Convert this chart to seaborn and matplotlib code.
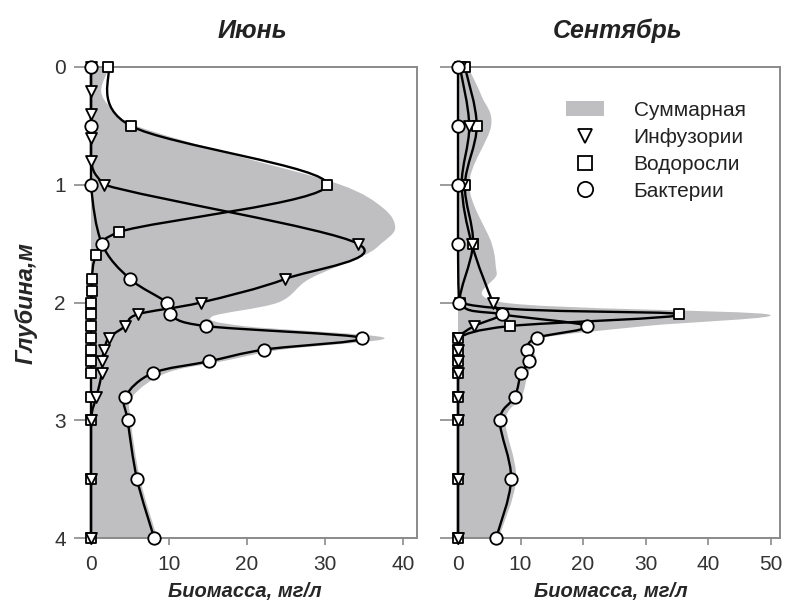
import numpy as np
import matplotlib
matplotlib.use("Agg")
import matplotlib.pyplot as plt
import seaborn as sns
from matplotlib.path import Path
from matplotlib.patches import PathPatch, Patch
from matplotlib.lines import Line2D

# ---------------- data: biomass (mg/l) by depth (m) ----------------
# June
jun_alg_depth = [0, 0.5, 1.0, 1.4, 1.6, 1.8, 1.9, 2.0, 2.1, 2.2, 2.3, 2.4, 2.5, 2.6, 2.8, 3.0, 3.5, 4.0]
jun_alg = [2.2, 5.1, 30.3, 3.6, 0.7, 0.1, 0.1, 0, 0, 0, 0, 0, 0, 0, 0, 0, 0, 0]

jun_cil_depth = [0, 0.2, 0.4, 0.6, 0.8, 1.0, 1.5, 1.8, 2.0, 2.1, 2.2, 2.3, 2.4, 2.5, 2.6, 2.8, 3.0, 3.5, 4.0]
jun_cil = [0, 0, 0, 0, 0, 1.7, 34.2, 24.9, 14.1, 6.0, 4.4, 2.3, 1.7, 1.4, 1.4, 0.7, 0, 0, 0]

jun_bac_depth = [0, 0.5, 1.0, 1.5, 1.8, 2.0, 2.1, 2.2, 2.3, 2.4, 2.5, 2.6, 2.8, 3.0, 3.5, 4.0]
jun_bac = [0, 0, 0, 1.4, 5.0, 9.7, 10.1, 14.7, 34.7, 22.2, 15.1, 7.9, 4.4, 4.7, 5.9, 8.1]

jun_tot_depth = [0, 0.2, 0.35, 0.5, 0.75, 1.0, 1.2, 1.37, 1.5, 1.6, 1.8, 2.0, 2.12, 2.2, 2.3, 2.4, 2.5, 2.6, 2.8, 3.0, 3.5, 4.0]
jun_tot = [2.4, 1.3, 2.6, 5.8, 18.5, 32.0, 37.5, 39.0, 37.2, 35.0, 28.0, 24.0, 15.5, 19.5, 37.6, 24.5, 16.8, 9.6, 5.3, 5.1, 6.3, 8.5]

# September
sep_alg_depth = [0, 0.5, 1.0, 1.5, 2.0, 2.1, 2.2, 2.3, 2.4, 2.5, 2.6, 2.8, 3.0, 3.5, 4.0]
sep_alg = [1.1, 3.0, 1.1, 2.4, 0.3, 35.4, 8.3, 0, 0, 0, 0, 0, 0, 0, 0]

sep_cil_depth = [0, 0.5, 1.0, 1.5, 2.0, 2.1, 2.2, 2.3, 2.4, 2.5, 2.6, 2.8, 3.0, 3.5, 4.0]
sep_cil = [0.3, 1.8, 0.6, 2.2, 5.6, 7.0, 2.6, 0, 0, 0, 0, 0, 0, 0, 0]

sep_bac_depth = [0, 0.5, 1.0, 1.5, 2.0, 2.1, 2.2, 2.3, 2.4, 2.5, 2.6, 2.8, 3.0, 3.5, 4.0]
sep_bac = [0, 0, 0, 0, 0.2, 7.0, 20.6, 12.6, 11.0, 11.4, 10.1, 9.1, 6.7, 8.5, 6.1]

sep_tot_depth = [0, 0.25, 0.5, 1.0, 1.5, 1.75, 2.0, 2.1, 2.2, 2.3, 2.4, 2.5, 2.6, 2.8, 3.0, 3.5, 4.0]
sep_tot = [1.6, 3.8, 5.3, 1.8, 5.4, 6.2, 7.2, 49.5, 30.0, 13.5, 12.2, 12.5, 11.2, 10.2, 7.6, 9.3, 6.5]

titles = ["Июнь", "Сентябрь"]
legend_labels = ["Суммарная", "Инфузории", "Водоросли", "Бактерии"]
depth_ticks = [0, 1, 2, 3, 4]
jun_xticks = [0, 10, 20, 30, 40]
sep_xticks = [0, 10, 20, 30, 40, 50]

GREY = "#bfbfc1"
SPINE = "#8a8a8a"

sns.set_theme(style="white")
plt.rcParams["font.family"] = ["Liberation Sans", "DejaVu Sans"]
plt.rcParams["text.color"] = "#222222"

fig = plt.figure(figsize=(7.86, 6.09), dpi=100)
W, H = 786, 609
ax1 = fig.add_axes([88 / W, 71 / H, 329 / W, 471 / H])
ax2 = fig.add_axes([455 / W, 71 / H, 325 / W, 471 / H])
limits = {ax1: (-0.385, 41.8), ax2: (-0.48, 51.52)}
for ax, lim in limits.items():
    ax.set_xlim(*lim)
    ax.set_ylim(4, 0)


def smooth_vertices(ax, xs, ys):
    """Catmull-Rom curve through the points as cubic Bezier segments (display space).
    Control points are kept at or right of the zero-biomass line."""
    pts = ax.transData.transform(np.column_stack([xs, ys]))
    x_zero = ax.transData.transform([(0, 0)])[0][0]
    n = len(pts)
    verts = [pts[0]]
    for i in range(n - 1):
        p0 = pts[i - 1] if i > 0 else pts[i]
        p1, p2 = pts[i], pts[i + 1]
        p3 = pts[i + 2] if i + 2 < n else pts[i + 1]
        c1 = p1 + (p2 - p0) / 6.0
        c2 = p2 - (p3 - p1) / 6.0
        c1[0] = max(c1[0], x_zero)
        c2[0] = max(c2[0], x_zero)
        verts += [c1, c2, p2]
    codes = [Path.MOVETO] + [Path.CURVE4] * (3 * (n - 1))
    return np.array(verts), codes


def curve_patch(ax, xs, ys):
    verts, codes = smooth_vertices(ax, xs, ys)
    path = Path(ax.transData.inverted().transform(verts), codes)
    return PathPatch(path, fill=False, edgecolor="black", lw=1.7,
                     capstyle="round", joinstyle="round", zorder=3, clip_on=False)


def area_patch(ax, xs, ys):
    verts, codes = smooth_vertices(ax, xs, ys)
    base_top = ax.transData.transform([(0, ys[0])])[0]
    base_bot = ax.transData.transform([(0, ys[-1])])[0]
    allv = np.vstack([[base_top], verts, [base_bot], [base_top]])
    allc = [Path.MOVETO, Path.LINETO] + codes[1:] + [Path.LINETO, Path.CLOSEPOLY]
    path = Path(ax.transData.inverted().transform(allv), allc)
    return PathPatch(path, facecolor=GREY, edgecolor="none", zorder=1)


panels = [
    (ax1, jun_tot_depth, jun_tot,
     [(jun_alg_depth, jun_alg, "s", 62), (jun_cil_depth, jun_cil, "v", 62), (jun_bac_depth, jun_bac, "o", 80)]),
    (ax2, sep_tot_depth, sep_tot,
     [(sep_alg_depth, sep_alg, "s", 62), (sep_cil_depth, sep_cil, "v", 62), (sep_bac_depth, sep_bac, "o", 80)]),
]

for ax, tot_d, tot_v, series in panels:
    ax.add_patch(area_patch(ax, tot_v, tot_d))
    for d, v, m, s in series:
        ax.add_patch(curve_patch(ax, v, d))
    for k, (d, v, m, s) in enumerate(series):
        sns.scatterplot(x=v, y=d, marker=m, s=s, color="white", edgecolor="black",
                        linewidth=1.3, ax=ax, zorder=4 + k)
    for c in ax.collections:
        c.set_clip_on(False)

label_font = dict(fontsize=14.5, fontweight="bold", fontstyle="italic")
for ax, title, xt, lx in [(ax1, titles[0], jun_xticks, 0.477), (ax2, titles[1], sep_xticks, 0.48)]:
    ax.set_xlim(*limits[ax])
    ax.set_ylim(4, 0)
    ax.set_xticks(xt)
    ax.set_yticks(depth_ticks)
    ax.set_title(title, fontsize=18, fontweight="bold", fontstyle="italic", pad=21)
    ax.set_xlabel("Биомасса, мг/л", **label_font)
    ax.xaxis.set_label_coords(lx, -0.093, transform=ax.transAxes)
    ax.xaxis.label.set_verticalalignment("top")
    ax.set_ylabel("")
    ax.spines["left"].set_visible(False)
    for side in ["top", "right", "bottom"]:
        ax.spines[side].set_color(SPINE)
        ax.spines[side].set_linewidth(1.4)
        ax.spines[side].set_zorder(2)
    ax.tick_params(axis="y", direction="out", length=10, width=1.2, color=SPINE,
                   labelsize=15, pad=6, labelcolor="#333333", left=True)
    ax.tick_params(axis="x", direction="out", length=5, width=1.2, color=SPINE,
                   labelsize=15, pad=7, labelcolor="#333333", bottom=True)
    ax.grid(False)

ax2.tick_params(axis="y", labelleft=False, length=11)
ax1.set_ylabel("Глубина,м", fontsize=17, fontweight="bold", fontstyle="italic", labelpad=12)

handles = [
    Patch(facecolor=GREY, edgecolor="none"),
    Line2D([], [], marker="v", ls="none", mfc="white", mec="black", mew=1.3, ms=10),
    Line2D([], [], marker="s", ls="none", mfc="white", mec="black", mew=1.3, ms=10),
    Line2D([], [], marker="o", ls="none", mfc="white", mec="black", mew=1.3, ms=11),
]
ax2.legend(handles, legend_labels, loc="upper left", bbox_to_anchor=(566 / W, 1 - 101 / H),
           bbox_transform=fig.transFigure, frameon=False, fontsize=15,
           handlelength=1.8, handletextpad=1.45, labelspacing=0.38, borderpad=0,
           borderaxespad=0)

fig.savefig("out.png", dpi=100)
